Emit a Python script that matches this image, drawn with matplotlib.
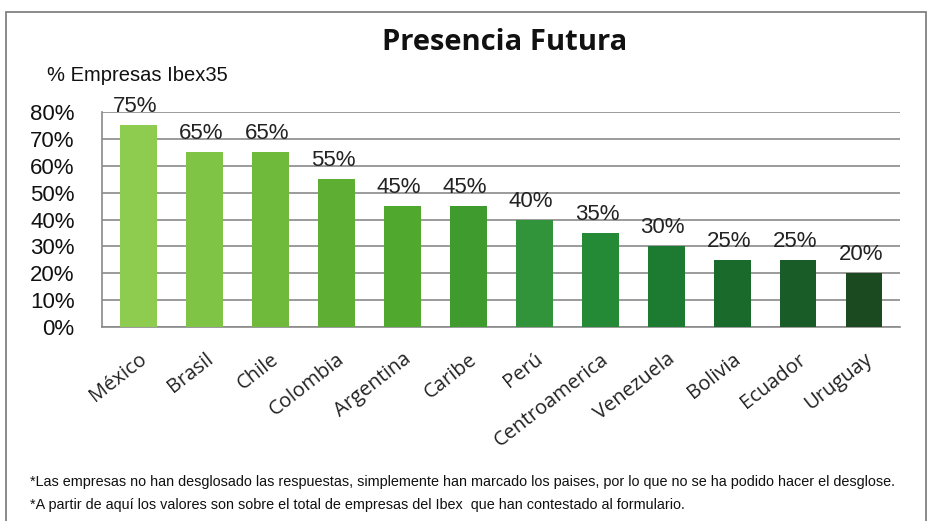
import matplotlib
matplotlib.use('Agg')
import matplotlib.pyplot as plt
import matplotlib.ticker as ticker
from matplotlib.patches import Rectangle
from matplotlib import font_manager

countries = ['México', 'Brasil', 'Chile', 'Colombia', 'Argentina', 'Caribe',
             'Perú', 'Centroamerica', 'Venezuela', 'Bolivia', 'Ecuador', 'Uruguay']
values = [75, 65, 65, 55, 45, 45, 40, 35, 30, 25, 25, 20]
colors = ['#8dcc4e', '#80c445', '#70ba3b', '#5dae32', '#51a82f', '#3f9b2e',
          '#31933a', '#248a36', '#1d7a31', '#1a6a2c', '#195c28', '#1b4a21']
yticks = [0, 10, 20, 30, 40, 50, 60, 70, 80]
title = 'Presencia Futura'
ylabel = '% Empresas Ibex35'
notes = ['*Las empresas no han desglosado las respuestas, simplemente han marcado los paises, por lo que no se ha podido hacer el desglose.',
         '*A partir de aquí los valores son sobre el total de empresas del Ibex  que han contestado al formulario.']

names = {f.name for f in font_manager.fontManager.ttflist}
narrow = 'Liberation Sans Narrow' if 'Liberation Sans Narrow' in names else 'Liberation Sans'
plt.rcParams['font.family'] = ['Liberation Sans', 'DejaVu Sans']

fig = plt.figure(figsize=(9.3, 5.21), dpi=100)
fig.patches.append(Rectangle((0.006, -0.01), 0.99, 0.987, transform=fig.transFigure,
                             fill=False, edgecolor='#777777', linewidth=1.2))
ax = fig.add_axes([0.110, 0.372, 0.858, 0.413])

x = range(len(countries))
bars = ax.bar(x, values, width=0.56, color=colors, zorder=3)
for rect, v in zip(bars, values):
    ax.text(rect.get_x() + rect.get_width() / 2 - 0.05, v + 3.0, '%d%%' % v,
            ha='center', va='bottom', fontsize=16, color='#222222', zorder=4)

ax.set_xlim(-0.55, len(countries) - 0.45)
ax.set_ylim(0, 80)
ax.set_yticks(yticks)
ax.yaxis.set_major_formatter(ticker.FuncFormatter(lambda v, p: '%d%%' % v))
ax.tick_params(axis='y', length=0, labelsize=16, pad=20, colors='#111111')
ax.tick_params(axis='x', length=0, pad=16)
ax.grid(axis='y', color='#8a8a8a', linewidth=1.2, linestyle='-', zorder=0)
ax.set_xticks(list(x))
ax.set_xticklabels(countries, rotation=38, ha='right', rotation_mode='anchor',
                   fontsize=14.5, color='#222222', family=['Open Sans', 'DejaVu Sans'])
for s in ['top', 'right']:
    ax.spines[s].set_visible(False)
for s in ['left', 'bottom']:
    ax.spines[s].set_color('#8a8a8a')
    ax.spines[s].set_linewidth(1.2)

fig.text(0.543, 0.918, title, ha='center', va='center', fontsize=21,
         fontweight='bold', family=['Open Sans', 'DejaVu Sans'], color='#111111')
fig.text(0.050, 0.855, ylabel, ha='left', va='center', fontsize=14.5,
         family=[narrow, 'DejaVu Sans'], color='#111111')
fig.text(0.032, 0.075, notes[0], ha='left', va='center', fontsize=10.4,
         family=[narrow, 'DejaVu Sans'], color='#111111')
fig.text(0.032, 0.030, notes[1], ha='left', va='center', fontsize=10.4,
         family=[narrow, 'DejaVu Sans'], color='#111111')

fig.savefig('out.png', dpi=100)
